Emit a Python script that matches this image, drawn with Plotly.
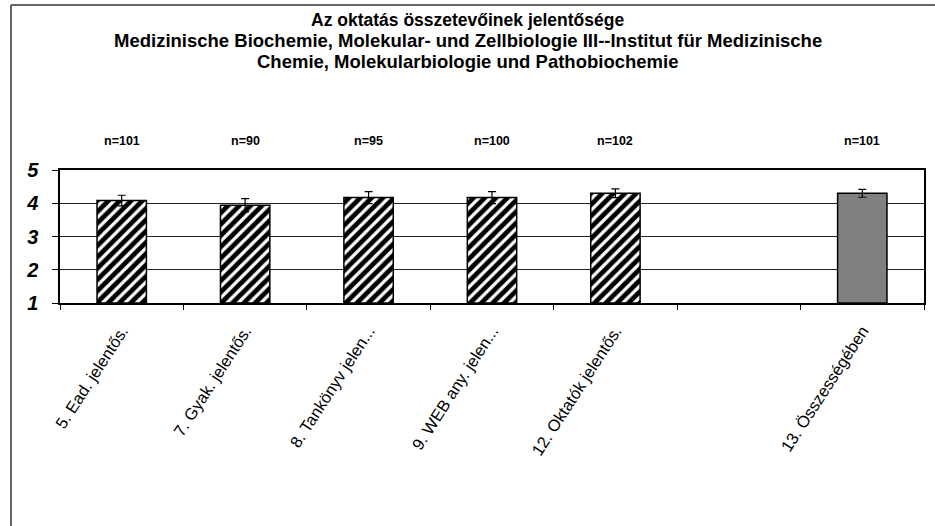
import plotly.graph_objects as go

categories = ["5. Ead. jelentős.", "7. Gyak. jelentős.", "8. Tankönyv jelen...",
              "9. WEB any. jelen...", "12. Oktatók jelentős.", " ", "13. Összességében"]
values = [4.08, 3.94, 4.17, 4.17, 4.30, None, 4.30]
errors = [0.16, 0.20, 0.18, 0.18, 0.13, None, 0.12]
n_labels = ["n=101", "n=90", "n=95", "n=100", "n=102", "", "n=101"]
y_ticks = [1, 2, 3, 4, 5]
title_lines = ["Az oktatás összetevőinek jelentősége",
               "Medizinische Biochemie, Molekular- und Zellbiologie III--Institut für Medizinische",
               "Chemie, Molekularbiologie und Pathobiochemie"]

FONT = "Liberation Sans, Arial, sans-serif"

hatched_idx = [0, 1, 2, 3, 4]
fig = go.Figure()
fig.add_trace(go.Bar(
    x=[categories[i] for i in hatched_idx],
    y=[values[i] - 1 for i in hatched_idx],
    base=1,
    marker=dict(color="white", line=dict(color="black", width=1.5),
                pattern=dict(shape="/", fgcolor="black", bgcolor="white", fgopacity=1,
                             size=8, solidity=0.6)),
    error_y=dict(type="data", array=[errors[i] for i in hatched_idx], color="black", thickness=1.2, width=4),
    width=0.4, showlegend=False, hoverinfo="skip",
))
fig.add_trace(go.Bar(
    x=[categories[6]], y=[values[6] - 1], base=1,
    marker=dict(color="#808080", line=dict(color="black", width=1.5)),
    error_y=dict(type="data", array=[errors[6]], color="black", thickness=1.2, width=4),
    width=0.4, showlegend=False, hoverinfo="skip",
))

L, R, T, B = 60, 11, 170, 223
W, H = 935, 526
pw, ph = W - L - R, H - T - B
fx = lambda px: (px - L) / pw
fy = lambda py: (H - B - py) / ph

for c, t in zip(categories, n_labels):
    if t:
        fig.add_annotation(x=c, y=fy(141), xref="x", yref="paper", text=t, showarrow=False,
                           yanchor="middle",
                           font=dict(family=FONT, size=12.5, color="black", weight="bold"))

# title lines as separate annotations (centered on the page)
for line, ypx, sz in zip(title_lines, [20, 40, 61], [17.5, 18.5, 18.5]):
    fig.add_annotation(x=fx(W / 2), y=fy(ypx), xref="paper", yref="paper", text=f"<b>{line}</b>",
                       showarrow=False, xanchor="center", yanchor="middle",
                       font=dict(family=FONT, size=sz, color="black"))

fig.add_shape(type="line", xref="paper", yref="paper", x0=fx(11), x1=fx(11), y0=fy(5), y1=fy(540),
              line=dict(color="#333333", width=1.5))
fig.add_shape(type="line", xref="paper", yref="paper", x0=fx(11), x1=fx(950), y0=fy(5), y1=fy(5),
              line=dict(color="#333333", width=1.5))

fig.update_layout(
    width=W, height=H,
    margin=dict(l=L, r=R, t=T, b=B, autoexpand=False),
    paper_bgcolor="white", plot_bgcolor="white",
    bargap=0.6,
    font=dict(family=FONT, color="black"),
)
fig.update_xaxes(categoryorder="array", categoryarray=categories, tickson="boundaries",
                 ticks="outside", ticklen=5, tickcolor="black", tickangle=-57,
                 tickfont=dict(family=FONT, size=16.5, color="black"),
                 showline=True, linecolor="black", linewidth=1.5, mirror=True,
                 showgrid=False, range=[-0.5, 6.5], ticklabelstandoff=10)
fig.update_yaxes(range=[1, 5], tickvals=y_ticks, ticks="outside", ticklen=6, tickcolor="black",
                 tickfont=dict(family=FONT, size=20, color="black", weight="bold", style="italic"),
                 showline=True, linecolor="black", linewidth=1.5, mirror=True,
                 showgrid=True, gridcolor="#222222", gridwidth=1, zeroline=False,
                 ticklabelstandoff=10)

fig.write_html("out.html", config={"displayModeBar": False},
               post_script="document.body.style.margin='0';document.body.style.overflow='hidden';")
